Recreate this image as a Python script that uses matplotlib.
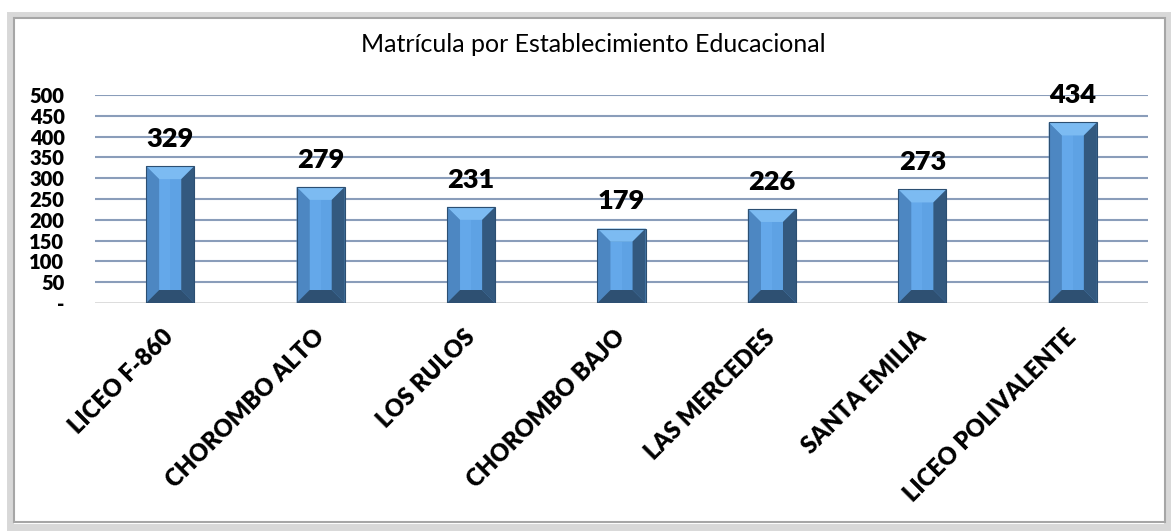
import matplotlib
matplotlib.use("Agg")
import matplotlib.pyplot as plt
from matplotlib.patches import Rectangle, Polygon
import numpy as np

categories = ["LICEO F-860", "CHOROMBO ALTO", "LOS RULOS", "CHOROMBO BAJO",
              "LAS MERCEDES", "SANTA EMILIA", "LICEO POLIVALENTE"]
values = [329, 279, 231, 179, 226, 273, 434]
yticks = [0, 50, 100, 150, 200, 250, 300, 350, 400, 450, 500]
ytick_labels = ["-", "50", "100", "150", "200", "250", "300", "350", "400", "450", "500"]
title = "Matrícula por Establecimiento Educacional"

FONT = "Lato"
W, H = 1172, 531
fig = plt.figure(figsize=(W / 100, H / 100), dpi=100)
fig.patch.set_facecolor("white")

# outer frame with shadow
fig.patches.append(Rectangle((10 / W, 1 - 527 / H), 1157 / W, 512 / H, transform=fig.transFigure,
                             facecolor="none", edgecolor="#d8d8d8", lw=5, zorder=0))
fig.patches.append(Rectangle((14 / W, 1 - 522 / H), 1151 / W, 504 / H, transform=fig.transFigure,
                             facecolor="none", edgecolor="#a6a6a6", lw=1.5, zorder=0))

ax = fig.add_axes([95 / W, 1 - 303 / H, (1148 - 95) / W, (303 - 95) / H])
ax.set_zorder(5)
ax.set_facecolor("none")
n = len(categories)
x = np.arange(n)
bw = 0.32
ax.set_xlim(-0.5, n - 0.5)
ax.set_ylim(0, 500)

for t in yticks[1:]:
    ax.axhline(t, color="#8a9dba", lw=1.5, zorder=1)
ax.axhline(0, color="#d9d9d9", lw=2, zorder=1)

bars = ax.bar(x, values, width=bw, color="#5b9bd5", edgecolor="none", zorder=2)

# bevel overlays computed from bar geometry
px_x = n / (1148 - 95)      # data units per pixel (x)
px_y = 500 / (303 - 95)     # data units per pixel (y)
bx = 13 * px_x
by = 13 * px_y
for b in bars:
    x0, x1 = b.get_x(), b.get_x() + b.get_width()
    y0, y1 = 0, b.get_height()
    xm = (x0 + x1) / 2
    ax.add_patch(Polygon([(x0 + bx, y0 + by), (x1 - bx, y0 + by), (x1 - bx, y1 - by), (x0 + bx, y1 - by)],
                         closed=True, facecolor="#5ea2e4", edgecolor="none", zorder=3))
    ax.add_patch(Polygon([(x0 + bx, y0 + by), (xm, y0 + by), (xm, y1 - by), (x0 + bx, y1 - by)],
                         closed=True, facecolor="#64a8ea", edgecolor="none", zorder=3))
    ax.add_patch(Polygon([(x0, y1), (x1, y1), (x1 - bx, y1 - by), (x0 + bx, y1 - by)],
                         closed=True, facecolor="#7cbbf2", edgecolor="none", zorder=3))
    ax.add_patch(Polygon([(x0, y0), (x0 + bx, y0 + by), (x0 + bx, y1 - by), (x0, y1)],
                         closed=True, facecolor="#4d87c2", edgecolor="none", zorder=3))
    ax.add_patch(Polygon([(x1, y0), (x1 - bx, y0 + by), (x1 - bx, y1 - by), (x1, y1)],
                         closed=True, facecolor="#33597f", edgecolor="none", zorder=3))
    ax.add_patch(Polygon([(x0, y0), (x1, y0), (x1 - bx, y0 + by), (x0 + bx, y0 + by)],
                         closed=True, facecolor="#2e5072", edgecolor="none", zorder=3))
    ax.add_patch(Rectangle((x0, y0), x1 - x0, y1 - y0, facecolor="none",
                           edgecolor="#2c4f72", lw=0.8, zorder=4))
    ax.annotate(f"{int(y1)}", (xm, y1), xytext=(0, 11),
                textcoords="offset points", ha="center", va="bottom",
                fontsize=19.5, fontweight="heavy", family=FONT, zorder=5)

ax.set_yticks(yticks)
ax.set_yticklabels(ytick_labels, fontsize=14.5, fontweight="heavy", family=FONT)
ax.set_xticks(x)
ax.set_xticklabels(categories, rotation=45, ha="right", va="center", rotation_mode="anchor",
                   fontsize=17, fontweight="heavy", family=FONT)
ax.tick_params(axis="both", length=0)
ax.tick_params(axis="y", pad=22)
ax.tick_params(axis="x", pad=22)
for s in ax.spines.values():
    s.set_visible(False)

fig.text(593 / W, 1 - 45 / H, title, ha="center", va="center", fontsize=18, family=FONT)

fig.savefig("out.png", dpi=100)
